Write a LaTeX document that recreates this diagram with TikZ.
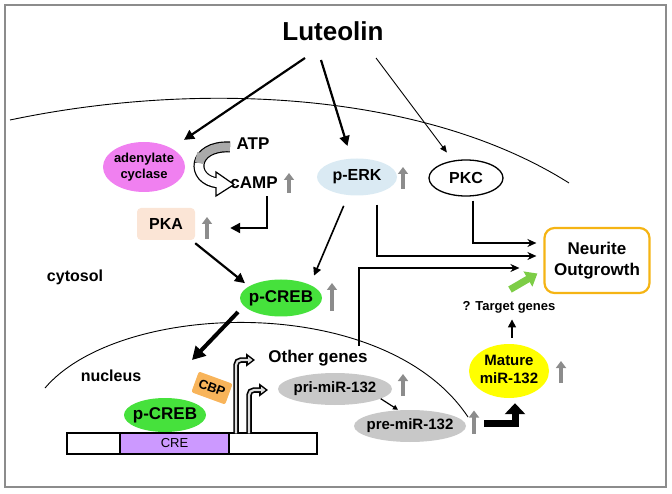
\documentclass[tikz,border=0pt]{standalone}
\usepackage{fontspec}
\setmainfont{Liberation Sans}
\usetikzlibrary{arrows.meta,shapes.geometric}
\definecolor{adc}{RGB}{240,128,240}
\definecolor{pkac}{RGB}{251,229,214}
\definecolor{erkc}{RGB}{218,234,243}
\definecolor{crebc}{RGB}{70,225,60}
\definecolor{cbpc}{RGB}{248,180,90}
\definecolor{crec}{RGB}{204,153,255}
\definecolor{mirc}{RGB}{200,200,200}
\definecolor{matc}{RGB}{255,255,0}
\definecolor{neuc}{RGB}{245,180,20}
\definecolor{grnarr}{RGB}{125,205,70}
\definecolor{upc}{RGB}{140,140,140}
\definecolor{framec}{RGB}{140,140,140}
\definecolor{bandc}{RGB}{170,170,170}
\newcommand{\zw}[1]{\makebox[0pt]{#1}}
\tikzset{
  t13/.style={font=\bfseries\fontsize{13}{16}\selectfont},
  t15/.style={font=\bfseries\fontsize{15}{18}\selectfont},
  t16/.style={font=\bfseries\fontsize{16}{19}\selectfont},
  t17/.style={font=\bfseries\fontsize{17}{21}\selectfont},
  t26/.style={font=\bfseries\fontsize{26}{30}\selectfont},
  oval/.style={ellipse, inner sep=0pt},
  upar/.style={line width=4.5pt, upc, -{Triangle[length=7pt 0,width=10pt 0]}},
  bigarr/.style={line width=2.2pt, -{Triangle[length=10pt 0,width=10pt 0]}},
  midarr/.style={line width=1.6pt, -{Triangle[length=8pt 0,width=8pt 0]}},
  thinarr/.style={line width=0.9pt, -{Triangle[length=7pt 0,width=6pt 0]}},
  outarr/.style={line width=1.5pt, -{Stealth[length=9pt 0,width=8pt 0]}},
  tssout/.style={line width=5.5pt, rounded corners=5pt, -{Triangle[length=9pt 0,width=13pt 0]}},
  tssin/.style={line width=2.2pt, rounded corners=5pt, white!75!gray, shorten >=2.5pt, -{Triangle[length=4.5pt 0,width=6.5pt 0]}},
}
\newcommand{\grayup}[3]{\draw[upar] (#1,{#2+#3/2}) -- (#1,{#2-#3/2});}
\begin{document}
\begin{tikzpicture}[x=1pt,y=-1pt]
\useasboundingbox (0,0) rectangle (672,494);
\draw[framec, line width=1.5pt] (5,5) rectangle (666,487);

% membranes
\draw[line width=0.9pt] (10,120) .. controls (200,80) and (425,92) .. (569,183);
\draw[line width=0.9pt] (45,388) .. controls (120,300) and (385,292) .. (468,417);

% title
\node[t26] (lut) at (333,31) {Luteolin};

% cytosol nodes
\node[oval, fill=adc, minimum width=82pt, minimum height=50pt, t13] (ac) at (144,167)
  {\zw{\begin{tabular}{@{}c@{}}adenylate\\cyclase\end{tabular}}};
\node[t17] (atp) at (253,144) {ATP};
\node[t17] (camp) at (254,183) {cAMP};
\node[rectangle, rounded corners=4pt, fill=pkac, minimum width=58pt, minimum height=32pt, t16] (pka) at (166,224) {PKA};
\node[oval, fill=erkc, minimum width=80pt, minimum height=37pt, t16] (perk) at (357,177) {\zw{p-ERK}};
\node[oval, draw, line width=1.3pt, minimum width=74pt, minimum height=36pt, t16] (pkc) at (466,178) {\zw{PKC}};
\node[oval, fill=crebc, minimum width=82pt, minimum height=37pt, t17] (pc1) at (281,298) {\zw{p-CREB}};
\node[t16] (cyt) at (75,277) {cytosol};
\node[rectangle, rounded corners=10pt, draw=neuc, line width=2.2pt, fill=white, minimum width=105pt, minimum height=65pt, align=center, t17] (neu) at (597,260.5) {Neurite\\Outgrowth};

% nucleus nodes
\node[t16] (nuc) at (111,376) {nucleus};
\node[t17] (oth) at (318,358) {Other genes};
\node[oval, fill=mirc, minimum width=114pt, minimum height=32pt, t15] (pri) at (335,389) {\zw{pri-miR-132}};
\node[oval, fill=mirc, minimum width=112pt, minimum height=32pt, t15] (pre) at (410,426) {\zw{pre-miR-132}};
\node[oval, fill=matc, minimum width=80pt, minimum height=54pt, t15] (mat) at (509,371)
  {\zw{\begin{tabular}{@{}c@{}}Mature\\miR-132\end{tabular}}};
\node[t13] (tg) at (509,307) {? Target genes};

% DNA
\node[rectangle, draw, line width=1.2pt, fill=white, minimum width=250pt, minimum height=21pt, inner sep=0pt] (dna) at (192,443.5) {};
\node[rectangle, draw, line width=1.2pt, fill=crec, minimum width=109pt, minimum height=21pt, inner sep=0pt, font=\fontsize{13}{16}\selectfont] (cre) at (174.5,443.5) {CRE};
\node[rectangle, rounded corners=2pt, fill=cbpc, rotate=-20, minimum width=36pt, minimum height=22pt, inner sep=1pt, t13] (cbp) at (212,388) {CBP};
\node[oval, fill=crebc, minimum width=82pt, minimum height=34pt, t17] (pc2) at (165,415) {\zw{p-CREB}};

% ATP -> cAMP curved band
\draw[line width=11pt] (230,147) .. controls (211,146) and (201,154.25) .. (199.25,163.1)
   .. controls (197.5,172) and (204,181.5) .. (218,183);
\filldraw[fill=white, line width=1.2pt, line join=miter] (216,172) -- (234,184.5) -- (216,196) -- cycle;
\draw[line width=8.6pt, bandc] (230,147) .. controls (211,146) and (201,154.25) .. (199.25,163.1);
\draw[line width=8.6pt, white] (199.25,163.1) .. controls (197.5,172) and (204,181.5) .. (218.8,183.1);
\draw[line width=8.6pt, bandc] (201.5,153) -- (199.25,163.1);

% transcription start arrows
\coordinate (tss1) at (255,360);
\coordinate (tss2) at (268,390);
\draw[tssout] ([xshift=44pt]dna.north) -- (236,360) -- (tss1);
\draw[tssin] ([xshift=44pt,yshift=-1pt]dna.north) -- (236,360) -- (tss1);
\draw[tssout] ([xshift=57pt]dna.north) -- (249,390) -- (tss2);
\draw[tssin] ([xshift=57pt,yshift=-1pt]dna.north) -- (249,390) -- (tss2);

% arrows from luteolin
\draw[bigarr, shorten >=15pt] ([xshift=-28pt,yshift=-27pt]lut.center) -- (ac);
\draw[bigarr, shorten >=13pt] ([xshift=-12pt,yshift=-29pt]lut.center) -- (perk);
\draw[thinarr, shorten >=10pt] ([xshift=43pt,yshift=-27pt]lut.center) -- (pkc);

% cytosol signalling
\draw[bigarr, line join=miter, shorten <=4pt, shorten >=35pt] ([xshift=13pt]camp.south) |- ([yshift=-4pt]pka.east);
\draw[bigarr, shorten >=5pt] ([yshift=-3pt]pka.south east) -- (pc1.160);
\draw[midarr, shorten <=11pt, shorten >=10pt] ([xshift=-9pt]perk.south) -- (pc1.north east);
\draw[outarr, shorten <=9pt, shorten >=7pt] ([xshift=20pt]perk.south) |- ([yshift=4.5pt]neu.west);
\draw[outarr, shorten <=4pt, shorten >=7pt] ([xshift=7pt]pkc.south) |- ([yshift=17.5pt]neu.west);
\draw[outarr, shorten <=1pt, shorten >=24pt] ([xshift=41pt]oth.north) |- ([yshift=-7.5pt]neu.west);
\draw[line width=4pt, -{Triangle[length=13pt 0,width=14pt 0]}] ([xshift=-43pt,yshift=-14pt]pc1.center) -- ([xshift=27pt,yshift=55pt]pc2.center);

% microRNA processing
\draw[line width=1.2pt, -{Triangle[length=5pt 0,width=5pt 0]}] (pri.-12) -- ([xshift=-12pt]pre.north);
\draw[line width=7pt, line join=miter, shorten <=18pt, shorten >=5pt, -{Triangle[length=11pt 0,width=20pt 0]}] ([yshift=3pt]pre.east) -| ([xshift=6pt]mat.south);
\draw[midarr, shorten <=6pt, shorten >=3pt] ([xshift=3pt]mat.north) -- ([xshift=3pt]tg.south);
\draw[grnarr, line width=7pt, -{Triangle[length=11pt 0,width=17pt 0]}] ([xshift=1pt,yshift=8pt]tg.north) -- ([xshift=-6pt,yshift=-13pt]neu.west);

% gray increase arrows
\grayup{289}{183}{20}
\grayup{207}{228}{22}
\grayup{403}{178}{22}
\grayup{332}{297}{28}
\grayup{403}{385}{22}
\grayup{474}{422}{23}
\grayup{561}{372}{22}
\end{tikzpicture}
\end{document}
